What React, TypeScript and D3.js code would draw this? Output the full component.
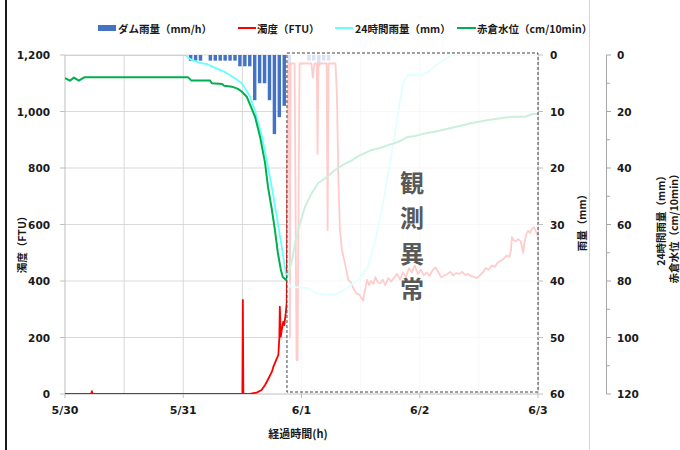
import React from "react";
import * as d3 from "d3";

// ---- data ----
const xTickLabels = ["5/30", "5/31", "6/1", "6/2", "6/3"];
const xTickHours = [0, 24, 48, 72, 96];
const gridHours = [12, 24, 36, 48, 60, 72, 84];
const leftTicks = [0, 200, 400, 600, 800, 1000, 1200];
const rainTicks = [0, 10, 20, 30, 40, 50, 60];
const right2Ticks = [0, 20, 40, 60, 80, 100, 120];
const right2Minor = [10, 30, 50, 70, 90, 110];

// hourly dam rainfall (mm/h), hour index from 5/30 0:00
const damRainHours = [25, 26, 27, 28, 29, 30, 31, 32, 33, 34, 35, 36, 37, 38, 39, 40, 41, 42, 43, 44, 45, 46, 47, 48, 49, 50, 51, 52, 53];
const damRainValues = [1, 1, 1, 0, 1, 1, 1, 1, 1, 1, 2, 2, 2, 8, 5, 5, 8, 14, 11, 9, 1.4, 0, 0, 0, 1, 1, 2, 1, 1];

// turbidity (FTU) [hour, value]
const turbidity: [number, number][] = [
  [0, 0], [5.3, 0], [5.45, 10], [5.6, 0], [36.0, 0], [36.1, 333], [36.2, 0], [37.5, 0],
  [38.9, 5], [39.9, 14], [40.6, 32], [41.3, 55], [42.0, 79], [42.3, 97], [43.0, 126], [43.3, 138],
  [43.5, 198], [43.6, 309], [43.8, 203], [44.0, 227], [44.3, 256], [44.5, 244], [44.8, 286], [45.0, 321],
  [45.3, 1170], [45.5, 1170], [45.65, 200], [45.8, 1170], [46.6, 1170], [47.0, 120], [47.2, 120], [47.6, 1170],
  [50.0, 1170], [50.3, 1120], [50.6, 1170], [51.1, 1170], [51.25, 850], [51.45, 1170], [53.1, 1170], [53.3, 580],
  [53.5, 1170], [54.9, 1170], [55.2, 1050], [55.5, 750], [55.8, 580], [56.2, 510], [56.8, 464], [57.5, 404],
  [58.1, 393], [58.5, 375], [59.1, 357], [59.8, 350], [60.2, 338], [60.5, 330], [60.9, 368], [61.3, 404],
  [61.7, 385], [62.1, 400], [62.6, 390], [63.0, 414], [63.5, 395], [64.0, 392], [64.5, 405], [65.0, 385],
  [65.6, 410], [66.2, 398], [66.8, 412], [67.4, 425], [68.0, 405], [68.6, 430], [69.2, 415], [69.8, 445],
  [70.4, 430], [71.0, 455], [71.6, 425], [72.2, 440], [72.8, 420], [73.4, 430], [74.0, 418], [74.6, 438],
  [75.2, 448], [75.8, 430], [76.4, 412], [77.0, 420], [77.6, 425], [78.2, 432], [78.8, 420], [79.4, 428],
  [80.0, 425], [80.6, 432], [81.2, 422], [81.8, 425], [82.4, 418], [83.0, 415], [83.6, 410], [84.2, 420],
  [84.8, 430], [85.4, 446], [86.0, 440], [86.6, 455], [87.2, 450], [87.8, 464], [88.4, 472], [89.0, 478],
  [89.6, 490], [90.2, 485], [90.5, 505], [90.7, 555], [91.0, 545], [91.5, 540], [92.0, 548], [92.5, 540],
  [93.0, 500], [93.2, 530], [93.6, 565], [94.0, 578], [94.4, 570], [94.8, 585], [95.2, 590], [95.6, 575], [96.0, 558],
];

// 24h rainfall (mm) [hour, value]
const rain24: [number, number][] = [
  [0, 0], [24.6, 0], [25.0, 1], [25.8, 1.8], [27.4, 2.8], [28.8, 3.2], [30.0, 4.2], [32.1, 5.7],
  [34.1, 7.8], [35.9, 10], [37.5, 14.5], [38.6, 20], [40.0, 29], [41.2, 39.6], [42.2, 49], [43.2, 59.5],
  [44.0, 68], [44.7, 76], [45.1, 79.6], [45.7, 82], [49.3, 82.5], [51.3, 84.5], [54.8, 85], [56.8, 83],
  [59.5, 79.6], [61.5, 75], [62.9, 66], [64.3, 55], [65.6, 42], [67.0, 27.6], [68.0, 16], [68.6, 10],
  [69.6, 7], [72.5, 7], [73.7, 6], [75.7, 3], [77.1, 1.5], [78.5, 0], [96, 0],
];

// Akakura water level (cm/10min) [hour, value]
const akakuraLevel: [number, number][] = [
  [0, 8.2], [1, 9.1], [1.8, 8.0], [2.8, 9.1], [3.9, 7.9], [25, 7.9], [25.6, 9.0], [29.4, 9.0],
  [29.8, 10], [31.9, 10.3], [32.3, 10.9], [33.9, 11.2], [35.1, 12], [35.9, 13], [36.9, 14.8], [37.5, 17.3],
  [38.6, 22], [39.6, 29], [40.6, 38.2], [41.2, 46.7], [42.0, 54.9], [42.6, 61.9], [43.2, 70], [43.8, 76],
  [44.2, 78.6], [44.8, 79.6], [45.1, 78.6], [46.1, 72.6], [46.7, 66.5], [47.7, 59.5], [48.7, 53.8], [50.1, 48.8],
  [51.4, 45.3], [53.2, 43.2], [54.8, 40.7], [56.4, 38.9], [58.3, 37.2], [59.5, 35.8], [60.9, 34.7], [62.3, 33.6],
  [63.9, 32.9], [65.6, 31.9], [67.6, 30.8], [69.6, 29], [71.0, 28.7], [72.5, 28], [75.7, 26.9], [79.2, 25.5],
  [82.6, 24.1], [85.9, 23], [90.7, 21.9], [93.4, 21.9], [94.8, 20.9], [96, 20.9],
];

const anomalyStart = 45.05;
const anomalyEnd = 96;
const anomalyText = ["観", "測", "異", "常"];

// ---- layout ----
const W = 680, H = 450;
const L = 65, R = 538, T = 55, B = 394;

const numFont = "'DejaVu Sans', 'Noto Sans CJK JP', sans-serif";
const jpFont = "'Noto Sans CJK JP', 'DejaVu Sans', sans-serif";

export default function App() {
  const x = d3.scaleLinear().domain([0, 96]).range([L, R]);
  const yL = d3.scaleLinear().domain([0, 1200]).range([B, T]);
  const yR1 = d3.scaleLinear().domain([0, 60]).range([T, B]);
  const yR2 = d3.scaleLinear().domain([0, 120]).range([T, B]);

  const hourW = x(1) - x(0);
  const barW = hourW * 0.7;

  const redLine = d3.line<[number, number]>().x(d => x(d[0])).y(d => yL(d[1]));
  const r2Line = d3.line<[number, number]>().x(d => x(d[0])).y(d => yR2(d[1]));

  const fmt = d3.format(",");
  const boxX0 = x(anomalyStart), boxX1 = x(anomalyEnd);
  const boxCx = (boxX0 + boxX1) / 2 - 0.5;

  return (
    <svg width={W} height={H} style={{ position: "absolute", left: 0, top: 0, background: "#fff" }}>
      <defs>
        <clipPath id="plot"><rect x={L} y={T} width={R - L} height={B - T} /></clipPath>
      </defs>
      {/* frame lines */}
      <line x1={6} x2={6} y1={0} y2={H} stroke="#1a1a1a" strokeWidth={2} />
      <line x1={589.5} x2={589.5} y1={0} y2={H} stroke="#d4d4d4" strokeWidth={1} />

      {/* gridlines */}
      {leftTicks.filter(v => v > 0).map(v => (
        <line key={"h" + v} x1={L} x2={R} y1={yL(v)} y2={yL(v)} stroke="#d9d9d9" strokeWidth={1} />
      ))}
      {gridHours.map(h => (
        <line key={"v" + h} x1={x(h)} x2={x(h)} y1={T} y2={B} stroke="#d9d9d9" strokeWidth={1} />
      ))}
      {/* axis lines */}
      <line x1={L} x2={L} y1={T} y2={B} stroke="#bfbfbf" />
      <line x1={L} x2={R} y1={B} y2={B} stroke="#bfbfbf" />
      <line x1={R} x2={R} y1={T} y2={B} stroke="#bfbfbf" />

      {/* bars and lines */}
      <g clipPath="url(#plot)">
        {damRainHours.map((h, i) => (
          <rect key={"b" + h} x={x(h + 0.5) - barW / 2} y={yR1(0)} width={barW}
            height={yR1(damRainValues[i]) - yR1(0)} fill="#4472c4" />
        ))}
        <path d={redLine(turbidity) || ""} fill="none" stroke="#ff0000" strokeWidth={1.8} strokeLinejoin="round" />
        <path d={r2Line(rain24) || ""} fill="none" stroke="#66ffff" strokeWidth={1.8} strokeLinejoin="round" />
        <path d={r2Line(akakuraLevel) || ""} fill="none" stroke="#00b050" strokeWidth={2} strokeLinejoin="round" />
      </g>

      {/* anomaly overlay */}
      <rect x={boxX0} y={T - 2} width={boxX1 - boxX0} height={B - T} fill="#ffffff" fillOpacity={0.8}
        stroke="#404040" strokeWidth={1} strokeDasharray="3,2" />
      {anomalyText.map((c, i) => (
        <text key={c} x={boxCx} y={181 + i * 35.5} textAnchor="middle" dominantBaseline="central"
          fontFamily={jpFont} fontWeight={700} fontSize={24} fill="#595959">{c}</text>
      ))}

      {/* left axis */}
      {leftTicks.map(v => (
        <g key={"lt" + v}>
          <line x1={L - 5} x2={L} y1={yL(v)} y2={yL(v)} stroke="#bfbfbf" />
          <text x={L - 15} y={yL(v)} textAnchor="end" dominantBaseline="central"
            fontFamily={numFont} fontWeight={700} fontSize={10.5} fill="#1a1a1a">{fmt(v)}</text>
        </g>
      ))}
      <text transform={`translate(21,${242}) rotate(-90)`} textAnchor="middle" dominantBaseline="central"
        fontFamily={jpFont} fontWeight={700} fontSize={10.5} fill="#1a1a1a">濁度（FTU）</text>

      {/* x axis */}
      {xTickHours.map((h, i) => (
        <g key={"xt" + h}>
          <line x1={x(h)} x2={x(h)} y1={B} y2={B + 4} stroke="#bfbfbf" />
          <text x={x(h)} y={410} textAnchor="middle" dominantBaseline="central"
            fontFamily={numFont} fontWeight={700} fontSize={11} fill="#1a1a1a">{xTickLabels[i]}</text>
        </g>
      ))}
      <text x={298} y={433} textAnchor="middle" dominantBaseline="central"
        fontFamily={jpFont} fontWeight={700} fontSize={11} fill="#1a1a1a">経過時間(h)</text>

      {/* right axis 1 */}
      {rainTicks.map(v => (
        <g key={"r1" + v}>
          <line x1={R} x2={R + 5} y1={yR1(v)} y2={yR1(v)} stroke="#bfbfbf" />
          <text x={550} y={yR1(v)} textAnchor="start" dominantBaseline="central"
            fontFamily={numFont} fontWeight={700} fontSize={10.5} fill="#1a1a1a">{v}</text>
        </g>
      ))}
      <text transform={`translate(581,${220}) rotate(-90)`} textAnchor="middle" dominantBaseline="central"
        fontFamily={jpFont} fontWeight={700} fontSize={10.5} fill="#1a1a1a">雨量（mm）</text>

      {/* right axis 2 */}
      <line x1={606.5} x2={606.5} y1={T} y2={B} stroke="#a6a6a6" />
      {right2Ticks.map(v => (
        <g key={"r2" + v}>
          <line x1={606.5} x2={611} y1={yR2(v)} y2={yR2(v)} stroke="#a6a6a6" />
          <text x={617} y={yR2(v)} textAnchor="start" dominantBaseline="central"
            fontFamily={numFont} fontWeight={700} fontSize={10.5} fill="#1a1a1a">{v}</text>
        </g>
      ))}
      {right2Minor.map(v => (
        <line key={"r2m" + v} x1={606.5} x2={610} y1={yR2(v)} y2={yR2(v)} stroke="#a6a6a6" />
      ))}
      <text transform={`translate(660,${218}) rotate(-90)`} textAnchor="middle" dominantBaseline="central"
        fontFamily={jpFont} fontWeight={700} fontSize={10.5} fill="#1a1a1a">24時間雨量（mm）</text>
      <text transform={`translate(673,${226}) rotate(-90)`} textAnchor="middle" dominantBaseline="central"
        fontFamily={jpFont} fontWeight={700} fontSize={10.5} fill="#1a1a1a">赤倉水位（cm/10min）</text>

      {/* legend */}
      <rect x={98} y={25} width={18} height={6} fill="#4472c4" />
      <text x={118} y={28} dominantBaseline="central" fontFamily={jpFont} fontWeight={700} fontSize={10.5} fill="#1a1a1a">ダム雨量（mm/h）</text>
      <line x1={238} x2={256} y1={28} y2={28} stroke="#ff0000" strokeWidth={2} />
      <text x={257} y={28} dominantBaseline="central" fontFamily={jpFont} fontWeight={700} fontSize={10.5} fill="#1a1a1a">濁度（FTU）</text>
      <line x1={335} x2={353} y1={28} y2={28} stroke="#66ffff" strokeWidth={2} />
      <text x={355} y={28} dominantBaseline="central" fontFamily={jpFont} fontWeight={700} fontSize={10.5} fill="#1a1a1a">24時間雨量（mm）</text>
      <line x1={457} x2={476} y1={28} y2={28} stroke="#00b050" strokeWidth={2} />
      <text x={477} y={28} dominantBaseline="central" fontFamily={jpFont} fontWeight={700} fontSize={10.5} fill="#1a1a1a">赤倉水位（cm/10min）</text>
    </svg>
  );
}
